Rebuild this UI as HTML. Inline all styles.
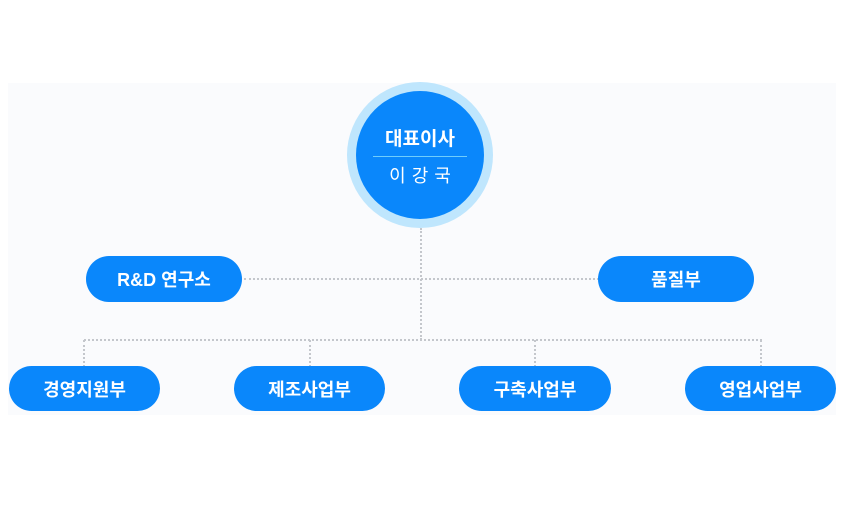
<!DOCTYPE html>
<html><head><meta charset="utf-8"><style>
body{margin:0;width:846px;height:517px;background:#fff;position:relative;overflow:hidden;font-family:"Liberation Sans","Noto Sans CJK KR",sans-serif}
.bg{position:absolute;left:8px;top:83px;width:828px;height:332px;background:#fafbfd}
.p{position:absolute;height:46px;border-radius:23px;background:#0a87fb;color:#fff;font-weight:bold;font-size:18px;display:flex;align-items:center;justify-content:center}
.h{position:absolute;border-top:2px dotted #c4c7cc;height:0}
.v{position:absolute;border-left:2px dotted #c4c7cc;width:0}
.o{position:absolute;left:347px;top:82px;width:146px;height:146px;border-radius:50%;background:#bfe6fd}
.i{position:absolute;left:356px;top:91px;width:128px;height:128px;border-radius:50%;background:#0a87fb;color:#fff;text-align:center}
</style></head><body>
<div class="bg"></div>
<div class="v" style="left:420px;top:228px;height:112px"></div>
<div class="h" style="left:244px;top:278px;width:355px"></div>
<div class="h" style="left:84px;top:339px;width:678px"></div>
<div class="v" style="left:83px;top:340px;height:27px"></div>
<div class="v" style="left:309px;top:340px;height:27px"></div>
<div class="v" style="left:534px;top:340px;height:27px"></div>
<div class="v" style="left:760px;top:340px;height:27px"></div>
<div class="o"></div>
<div class="i"><div style="margin-top:33px;font-size:19px;font-weight:bold">대표이사</div>
<div style="margin:5px auto 0;width:94px;border-top:1px solid #6fcdfc"></div>
<div style="margin-top:5px;font-size:18px;letter-spacing:6px;padding-left:6px">이강국</div></div>
<div class="p" style="left:86px;top:256px;width:156px">R&amp;D 연구소</div>
<div class="p" style="left:598px;top:256px;width:156px">품질부</div>
<div class="p" style="left:9px;top:366px;width:151px;height:45px">경영지원부</div>
<div class="p" style="left:234px;top:366px;width:151px;height:45px">제조사업부</div>
<div class="p" style="left:459px;top:366px;width:152px;height:45px">구축사업부</div>
<div class="p" style="left:685px;top:366px;width:151px;height:45px">영업사업부</div>
</body></html>
